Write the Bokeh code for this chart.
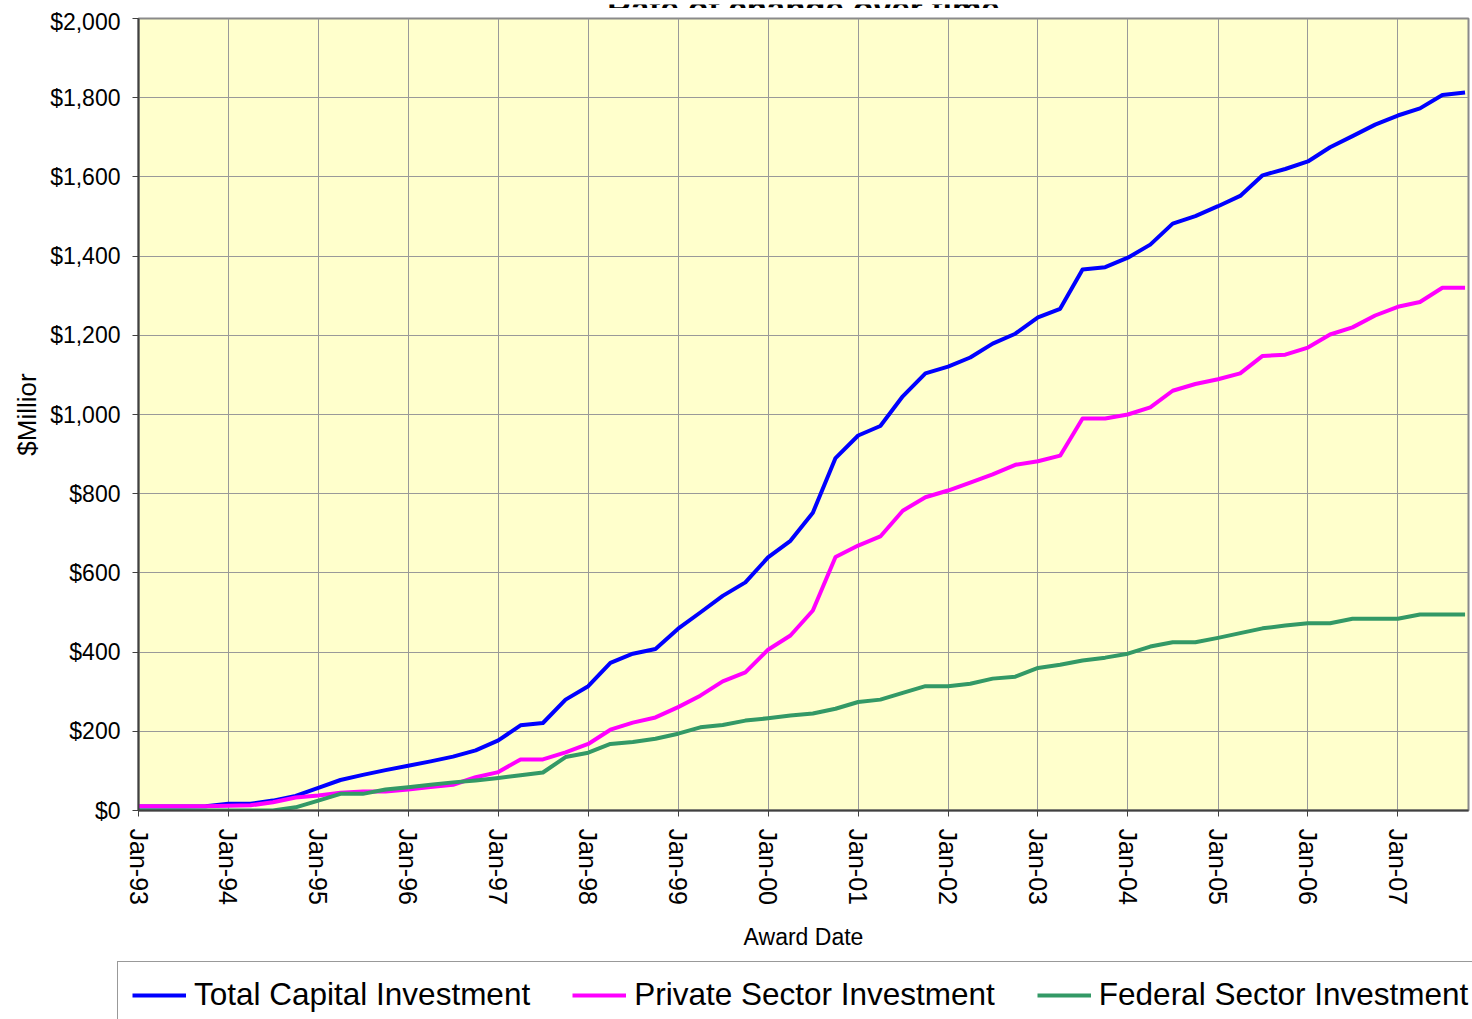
import pandas as pd
from bokeh.plotting import figure
from bokeh.layouts import column
from bokeh.models import (FixedTicker, DatetimeTickFormatter, NumeralTickFormatter,
                          Legend, LegendItem, Label, Range1d, ColumnDataSource)
from bokeh.embed import file_html
from bokeh.resources import INLINE

# ---------------- data (quarterly award dates, $ million, cumulative) ----------------
quarters = pd.date_range("1993-01-01", "2007-10-01", freq="QS")

total_capital = [10, 10, 10, 11, 17, 17, 25, 37, 57, 77, 90, 102, 113, 124, 136, 152,
                 177, 215, 221, 280, 314, 373, 396, 408, 459, 500, 542, 576, 639, 681,
                 752, 890, 947, 971, 1046, 1104, 1121, 1144, 1179, 1204, 1245, 1267,
                 1366, 1372, 1396, 1429, 1482, 1501, 1526, 1552, 1604, 1620, 1639, 1675,
                 1703, 1732, 1755, 1773, 1807, 1813]

private_sector = [11, 11, 11, 11, 12, 13, 21, 33, 38, 45, 48, 48, 53, 59, 65, 84,
                  97, 129, 129, 147, 168, 204, 222, 235, 261, 290, 326, 349, 406, 442,
                  505, 640, 669, 692, 757, 791, 808, 828, 849, 873, 882, 896,
                  990, 990, 1000, 1018, 1060, 1077, 1089, 1104, 1148, 1151, 1169, 1202,
                  1220, 1250, 1272, 1284, 1320, 1320]

federal_sector = [0, 0, 0, 0, 0, 0, 0, 8, 25, 42, 42, 53, 59, 65, 71, 76,
                  82, 89, 96, 135, 146, 168, 173, 181, 194, 210, 216, 227, 233, 240,
                  245, 257, 274, 280, 297, 314, 314, 320, 333, 338, 360, 368,
                  379, 386, 396, 414, 425, 425, 436, 448, 460, 467, 473, 473,
                  484, 484, 484, 495, 495, 495]

series_names = ["Total Capital Investment", "Private Sector Investment", "Federal Sector Investment"]
series_cols = ["total", "private", "federal"]
series_colors = ["#0000FF", "#FF00FF", "#339966"]

year_ticks = pd.date_range("1993-01-01", "2007-01-01", freq="YS")
y_ticks = list(range(0, 2001, 200))

title_text = "Rate of change over time"
x_title = "Award Date"
y_title = "$Millior"

# ---------------- layout constants ----------------
FONT = "Liberation Sans"
PAGE_W, PAGE_H = 1472, 1019
TITLE_H = 8
FRAME_L, FRAME_W, FRAME_H = 138, 1330, 792
MAIN_H = 944
LEG_H = PAGE_H - TITLE_H - MAIN_H

src = ColumnDataSource(dict(date=quarters, total=total_capital,
                            private=private_sector, federal=federal_sector))

# ---------------- title strip (title runs off the top of the page, as in the original) ----------------
pt = figure(width=PAGE_W, height=TITLE_H, x_range=Range1d(0, PAGE_W), y_range=Range1d(0, TITLE_H),
            x_axis_location=None, y_axis_location=None, min_border=0, frame_align=False,
            output_backend="svg", toolbar_location=None)
pt.grid.visible = False
pt.outline_line_color = None
pt.background_fill_color = "white"
pt.border_fill_color = "white"
pt.add_layout(Label(x=FRAME_L + FRAME_W / 2, y=TITLE_H - 3.5, text=title_text,
                    text_align="center", text_baseline="alphabetic",
                    text_font=FONT, text_font_style="bold", text_font_size="33px",
                    text_color="black"))

# ---------------- main chart ----------------
p = figure(width=PAGE_W, height=MAIN_H, x_axis_type="datetime",
           x_range=Range1d(quarters[0], quarters[-1] + pd.Timedelta(days=14)),
           y_range=Range1d(0, 2000),
           min_border_left=FRAME_L, min_border_right=PAGE_W - FRAME_L - FRAME_W,
           min_border_top=10, min_border_bottom=MAIN_H - 10 - FRAME_H,
           frame_align=False, output_backend="svg", toolbar_location=None)

p.background_fill_color = "#FFFFCC"
p.border_fill_color = "white"
p.outline_line_color = "#8a8a8a"
p.outline_line_width = 2

p.xgrid.grid_line_color = "#999999"
p.ygrid.grid_line_color = "#999999"
p.xgrid.grid_line_width = 1
p.ygrid.grid_line_width = 1

# x axis
xt = FixedTicker(ticks=[t.timestamp() * 1000 for t in year_ticks])
p.xaxis.ticker = xt
p.xgrid.ticker = xt
p.xaxis.formatter = DatetimeTickFormatter(years="%b-%y", months="%b-%y", days="%b-%y",
                                          hours="%b-%y", minutes="%b-%y", seconds="%b-%y",
                                          milliseconds="%b-%y", microseconds="%b-%y")
p.xaxis.major_label_orientation = "vertical"
p.xaxis.major_label_text_font = FONT
p.xaxis.major_label_text_font_size = "25px"
p.xaxis.major_label_text_color = "black"
p.xaxis.major_label_standoff = 12
p.xaxis.major_tick_out = 6
p.xaxis.major_tick_in = 0
p.xaxis.minor_tick_line_color = None
p.xaxis.axis_line_color = "#404040"
p.xaxis.axis_line_width = 2
p.xaxis.major_tick_line_color = "#404040"
p.xaxis.axis_label = x_title
p.xaxis.axis_label_text_font = FONT
p.xaxis.axis_label_text_font_size = "23px"
p.xaxis.axis_label_text_font_style = "normal"
p.xaxis.axis_label_text_color = "black"
p.xaxis.axis_label_standoff = 16

# y axis
yt = FixedTicker(ticks=y_ticks)
p.yaxis.ticker = yt
p.ygrid.ticker = yt
p.yaxis.formatter = NumeralTickFormatter(format="$0,0")
p.yaxis.major_label_text_font = FONT
p.yaxis.major_label_text_font_size = "23px"
p.yaxis.major_label_text_color = "black"
p.yaxis.major_label_standoff = 12
p.yaxis.major_tick_out = 6
p.yaxis.major_tick_in = 0
p.yaxis.minor_tick_line_color = None
p.yaxis.axis_line_color = "#404040"
p.yaxis.axis_line_width = 2
p.yaxis.major_tick_line_color = "#404040"
p.yaxis.axis_label = y_title
p.yaxis.axis_label_text_font = FONT
p.yaxis.axis_label_text_font_size = "26px"
p.yaxis.axis_label_text_font_style = "normal"
p.yaxis.axis_label_text_color = "black"
p.yaxis.axis_label_standoff = 5

for col, color in zip(series_cols, series_colors):
    p.line(x="date", y=col, source=src, line_color=color, line_width=4, line_join="round")

# ---------------- legend strip (runs off the page edge, as in the original) ----------------
pl = figure(width=PAGE_W, height=LEG_H, x_range=Range1d(0, PAGE_W), y_range=Range1d(0, LEG_H),
            x_axis_location=None, y_axis_location=None, min_border=0, frame_align=False,
            output_backend="svg", toolbar_location=None)
pl.grid.visible = False
pl.outline_line_color = None
pl.background_fill_color = "white"
pl.border_fill_color = "white"

# legend proxies: the same series, which fall outside this strip's ranges
leg_renderers = [pl.line(x="date", y=col, source=src, line_color=c, line_width=4)
                 for col, c in zip(series_cols, series_colors)]
legend = Legend(items=[LegendItem(label=n, renderers=[r]) for n, r in zip(series_names, leg_renderers)],
                orientation="horizontal", location=(117, LEG_H - 10 - 66),
                padding=14, spacing=42, margin=0,
                glyph_width=54, glyph_height=20, label_standoff=8,
                label_text_font=FONT, label_text_font_size="31.5px", label_text_color="black",
                border_line_color="#333333", border_line_width=1.5,
                background_fill_color="white", background_fill_alpha=1.0)
pl.add_layout(legend)

open("out.html", "w").write(file_html(column(pt, p, pl, spacing=0), INLINE))
